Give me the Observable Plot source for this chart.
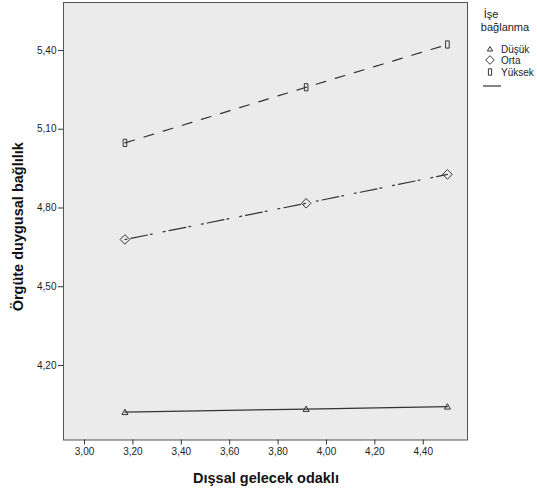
<!DOCTYPE html>
<html>
<head>
<meta charset="utf-8">
<script src="https://cdn.jsdelivr.net/npm/d3@7"></script>
<script src="https://cdn.jsdelivr.net/npm/@observablehq/plot@0.6"></script>
<style>
  html, body { margin: 0; padding: 0; background: #fff; }
  #chart svg { display: block; font-family: "Liberation Sans", Arial, sans-serif; }
</style>
</head>
<body>
<div id="chart"></div>
<script>
// ---- data ----
const groups = ["Düşük", "Orta", "Yüksek"];
const xValues = [3.167, 3.916, 4.50];
const dusukValues = [4.022, 4.034, 4.043];
const ortaValues = [4.680, 4.818, 4.928];
const yuksekValues = [5.048, 5.260, 5.423];
const xTicks = [3.0, 3.2, 3.4, 3.6, 3.8, 4.0, 4.2, 4.4];
const yTicks = [4.2, 4.5, 4.8, 5.1, 5.4];
const xTitle = "Dışsal gelecek odaklı";
const yTitle = "Örgüte duygusal bağlılık";
const legendTitle = ["İşe", "bağlanma"];

const seriesValues = [dusukValues, ortaValues, yuksekValues];
const rows = [];
groups.forEach((g, i) => seriesValues[i].forEach((v, j) => rows.push({group: g, x: xValues[j], y: v})));

// ---- symbols ----
const triangleSym = {draw(ctx) { ctx.moveTo(0, -3); ctx.lineTo(3, 2.4); ctx.lineTo(-3, 2.4); ctx.closePath(); }};
const diamondSym = {draw(ctx) { ctx.moveTo(0, -4.8); ctx.lineTo(4.8, 0); ctx.lineTo(0, 4.8); ctx.lineTo(-4.8, 0); ctx.closePath(); }};
const rectSym = {draw(ctx) { ctx.rect(-1.8, -3.6, 3.6, 7.2); }};
const symbols = [triangleSym, diamondSym, rectSym];
const dashes = [null, "2,4,17,3,2,11", "10,10"];

const fmt = d => d.toFixed(2).replace(".", ",");
const W = 537, H = 495;
const mL = 63, mR = 70, mT = 2, mB = 55.5;

const marks = [Plot.frame({fill: "#ebebeb"})];
groups.forEach((g, i) => {
  const data = rows.filter(r => r.group === g);
  marks.push(Plot.line(data, {x: "x", y: "y", stroke: "#333", strokeWidth: 1.2, strokeDasharray: dashes[i] || undefined}));
  marks.push(Plot.dot(data, {x: "x", y: "y", symbol: symbols[i], r: 3, fill: "none", stroke: "#333", strokeWidth: 1}));
});
marks.push(Plot.frame({stroke: "#555", strokeWidth: 1}));
marks.push(Plot.axisX({ticks: xTicks, tickFormat: fmt, tickSize: 5, tickPadding: 3, fontSize: 10, label: null, stroke: "#333"}));
marks.push(Plot.axisY({ticks: yTicks, tickFormat: fmt, tickSize: 5, tickPadding: 2, fontSize: 10, label: null, stroke: "#333"}));

const svg = Plot.plot({
  width: W, height: H,
  marginLeft: mL, marginRight: mR, marginTop: mT, marginBottom: mB,
  style: {fontFamily: "Liberation Sans, Arial, sans-serif", color: "#222", background: "#fff"},
  x: {domain: [2.913, 4.583]},
  y: {domain: [3.916, 5.583]},
  marks
});

const s = d3.select(svg);
// axis titles
s.append("text").text(xTitle)
  .attr("x", (mL + W - mR) / 2 + 1).attr("y", 483)
  .attr("text-anchor", "middle").attr("font-weight", "bold").attr("font-size", 14.5).attr("fill", "#111");
s.append("text").text(yTitle)
  .attr("transform", `translate(23,${(mT + H - mB) / 2 + 6}) rotate(-90)`)
  .attr("text-anchor", "middle").attr("font-weight", "bold").attr("font-size", 14.5).attr("fill", "#111");

// legend
const lg = s.append("g").attr("font-size", 10).attr("fill", "#222").attr("text-anchor", "start");
lg.append("text").text(legendTitle[0]).attr("x", 491).attr("y", 18).attr("text-anchor", "middle").attr("font-size", 11);
lg.append("text").text(legendTitle[1]).attr("x", 505).attr("y", 31).attr("text-anchor", "middle").attr("font-size", 11);
const legendY = [49, 60, 72];
const legendSyms = [
  "M0,-2.5L2.6,2L-2.6,2Z",
  "M0,-4.3L4.3,0L0,4.3L-4.3,0Z",
  "M-1.6,-3.2h3.2v6.4h-3.2Z"
];
groups.forEach((g, i) => {
  lg.append("path").attr("d", legendSyms[i]).attr("transform", `translate(490,${legendY[i]})`)
    .attr("fill", "none").attr("stroke", "#333").attr("stroke-width", 1);
  lg.append("text").text(g).attr("x", 501).attr("y", legendY[i] + 3.5).attr("text-anchor", "start");
});
lg.append("line").attr("x1", 483).attr("x2", 501).attr("y1", 86).attr("y2", 86).attr("stroke", "#333").attr("stroke-width", 1.2);

document.getElementById("chart").appendChild(svg);
</script>
</body>
</html>
